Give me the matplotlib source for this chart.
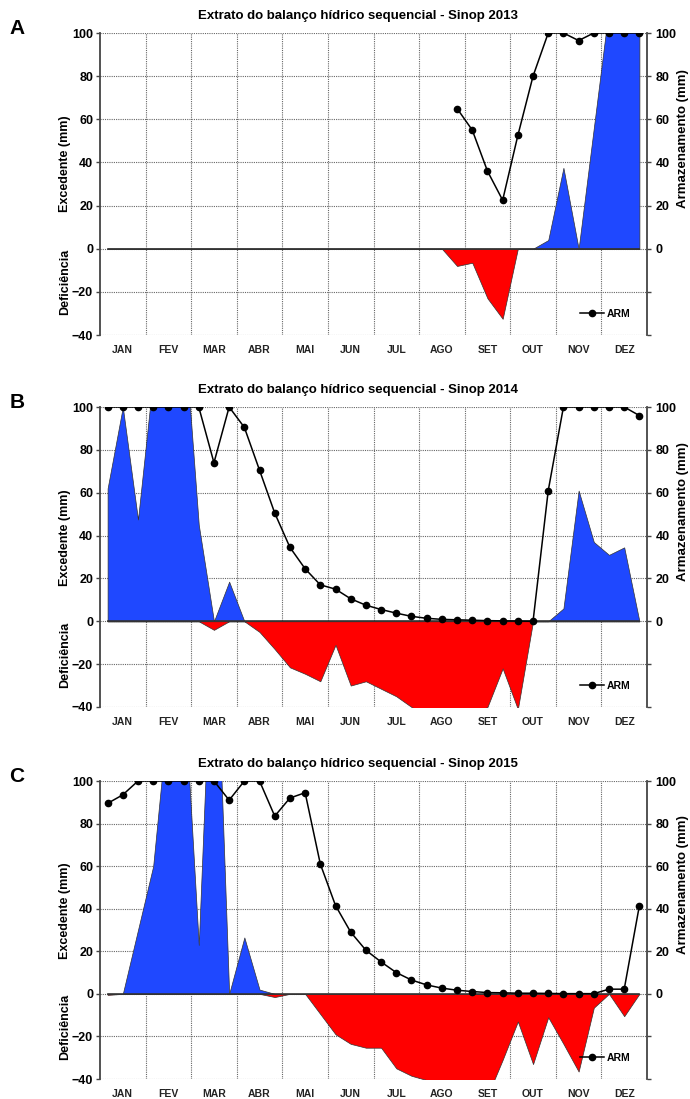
import numpy as np
import matplotlib
matplotlib.use("Agg")
import matplotlib.pyplot as plt

plt.rcParams['font.family'] = ['Liberation Sans', 'DejaVu Sans']
plt.rcParams['font.weight'] = 'bold'

months = ['JAN', 'FEV', 'MAR', 'ABR', 'MAI', 'JUN', 'JUL', 'AGO', 'SET', 'OUT', 'NOV', 'DEZ']
years = [2013, 2014, 2015]
panel_letters = ['A', 'B', 'C']

nan = np.nan
# ARM - armazenamento (mm), 36 decendios
arm_2013 = [nan] * 23 + [65, 55, 36, 22.5, 52.5, 80, 100, 100, 96.5, 100, 100, 100, 100]
arm_2014 = [100, 100, 100, 100, 100, 100, 100, 74, 100, 90.5, 70.5, 50.5, 34.5, 24.5, 17, 15,
            10.5, 7.5, 5.5, 3.8, 2.3, 1.4, 0.9, 0.7, 0.5, 0.3, 0.2, 0.1, 0, 61, 100, 100, 100, 100, 100, 96]
arm_2015 = [89.5, 93.5, 100, 100, 100, 100, 100, 100, 91, 100, 100, 83.5, 92, 94.5, 61, 41.5,
            29, 20.5, 15, 10, 6.5, 4.2, 2.7, 1.7, 1.1, 0.6, 0.5, 0.3, 0.3, 0.2, 0.1, 0.1, 0.1, 2.2, 2.2, 41.5]

# excedente (mm)
exc_2013 = [0] * 29 + [4, 37.5, 0, 56, 112, 130, 125]
exc_2014 = [62, 100, 47.5, 114, 130, 140, 45, 0, 18.5, 0] + [0] * 20 + [6, 61, 37, 31, 34.5, 0]
exc_2015 = [0, 0, 30, 60, 133, 147, 23, 200, 0, 26.5, 2] + [0] * 25

# deficiencia (mm)
def_2013 = [0] * 23 + [-8, -6.5, -23, -32.5] + [0] * 9
def_2014 = [0, 0, 0, 0, 0, 0, 0, -4, 0, 0, -5, -13, -21.5, -24.5, -28, -11,
            -30, -28, -31.5, -35, -40, -44, -46, -45, -43, -40, -22, -41, 0, 0, 0, 0, 0, 0, 0, 0]
def_2015 = [-0.5, 0, 0, 0, 0, 0, 0, 0, 0, 0, 0, -1.5, 0, 0, -9.5, -19,
            -23.5, -25.3, -25.3, -35, -38.5, -40.5, -44, -46, -47, -48, -31, -13, -33, -11, -23.5, -36.5, -6.5, 0, -10.5, 0]

arm_all = [arm_2013, arm_2014, arm_2015]
exc_all = [exc_2013, exc_2014, exc_2015]
def_all = [def_2013, def_2014, def_2015]

x = (np.arange(36) + 0.5) / 3.0  # centro de cada decendio, em meses

fig = plt.figure(figsize=(6.9, 10.99), dpi=100)
W, H = 690, 1099
# (topo px, base px) de cada painel
panel_px = [(33, 335), (407, 707), (781, 1079)]

for k in range(3):
    top, bot = panel_px[k]
    ax = fig.add_axes([100 / W, 1 - bot / H, 547 / W, (bot - top) / H])
    ax2 = ax.twinx()

    ax.set_xlim(0, 12)
    ax.set_ylim(-40, 100)
    ax2.set_ylim(-40, 100)

    ax.set_axisbelow(True)
    ax.fill_between(x, 0, exc_all[k], color='#1f48ff', edgecolor='#333333', linewidth=0.5, zorder=2)
    ax.fill_between(x, 0, def_all[k], color='#ff0000', edgecolor='#333333', linewidth=0.5, zorder=2)
    ax.plot(x, np.zeros(36), color='#333333', lw=1.2, zorder=3)

    ax2.plot(x, arm_all[k], color='black', lw=1.1, marker='o', ms=4.5, label='ARM', zorder=4)

    # grade
    ax.set_yticks(np.arange(-40, 101, 20))
    ax.set_xticks(np.arange(0.5, 12, 1))
    ax.set_xticklabels(months, fontsize=7.5, fontweight='bold', color='#222222')
    ax.set_xticks(np.arange(1, 12), minor=True)
    ax.tick_params(axis='x', which='both', length=0, pad=7)
    ax.grid(axis='y', which='major', linestyle=(0, (1, 1)), color='#666666', lw=0.8)
    ax.grid(axis='x', which='minor', linestyle=(0, (1, 1)), color='#666666', lw=0.8)
    ax.tick_params(axis='y', length=3, width=1, labelsize=9, color='#444444', pad=2)
    for lbl in ax.get_yticklabels():
        lbl.set_fontweight('bold')

    ax2.set_yticks(np.arange(-40, 101, 20))
    ax2.set_yticklabels(['' if v < 0 else str(v) for v in range(-40, 101, 20)],
                        fontsize=9, fontweight='bold')
    ax2.tick_params(axis='y', length=3, width=1, color='#444444', pad=3)

    for s in ['top', 'bottom', 'right']:
        ax.spines[s].set_visible(False)
    for s in ['top', 'bottom', 'left']:
        ax2.spines[s].set_visible(False)
    ax.spines['left'].set_color('#444444')
    ax.spines['left'].set_linewidth(1.3)
    ax2.spines['right'].set_color('#444444')
    ax2.spines['right'].set_linewidth(1.3)

    ax.text(-0.064, 0.566, 'Excedente (mm)', transform=ax.transAxes, rotation=90,
            ha='center', va='center', fontsize=9, fontweight='bold')
    ax.text(-0.064, 0.175, 'Deficiência', transform=ax.transAxes, rotation=90,
            ha='center', va='center', fontsize=9, fontweight='bold')
    ax2.text(1.066, 0.652, 'Armazenamento (mm)', transform=ax.transAxes, rotation=90,
             ha='center', va='center', fontsize=9.5, fontweight='bold')

    ax.text(0.472, 1 + 17 / (bot - top), f'Extrato do balanço hídrico sequencial - Sinop {years[k]}',
            transform=ax.transAxes, ha='center', va='center', fontsize=9.5, fontweight='bold')
    fig.text(17 / W, 1 - (top - 4) / H, panel_letters[k], ha='center', va='center',
             fontsize=15, fontweight='bold')

    ax2.legend(loc='center left', bbox_to_anchor=(0.878, 0.07), frameon=False,
               handlelength=2.3, handletextpad=0.2, borderpad=0, borderaxespad=0,
               prop={'weight': 'bold', 'size': 7.5})

fig.savefig('out.png', dpi=100)
